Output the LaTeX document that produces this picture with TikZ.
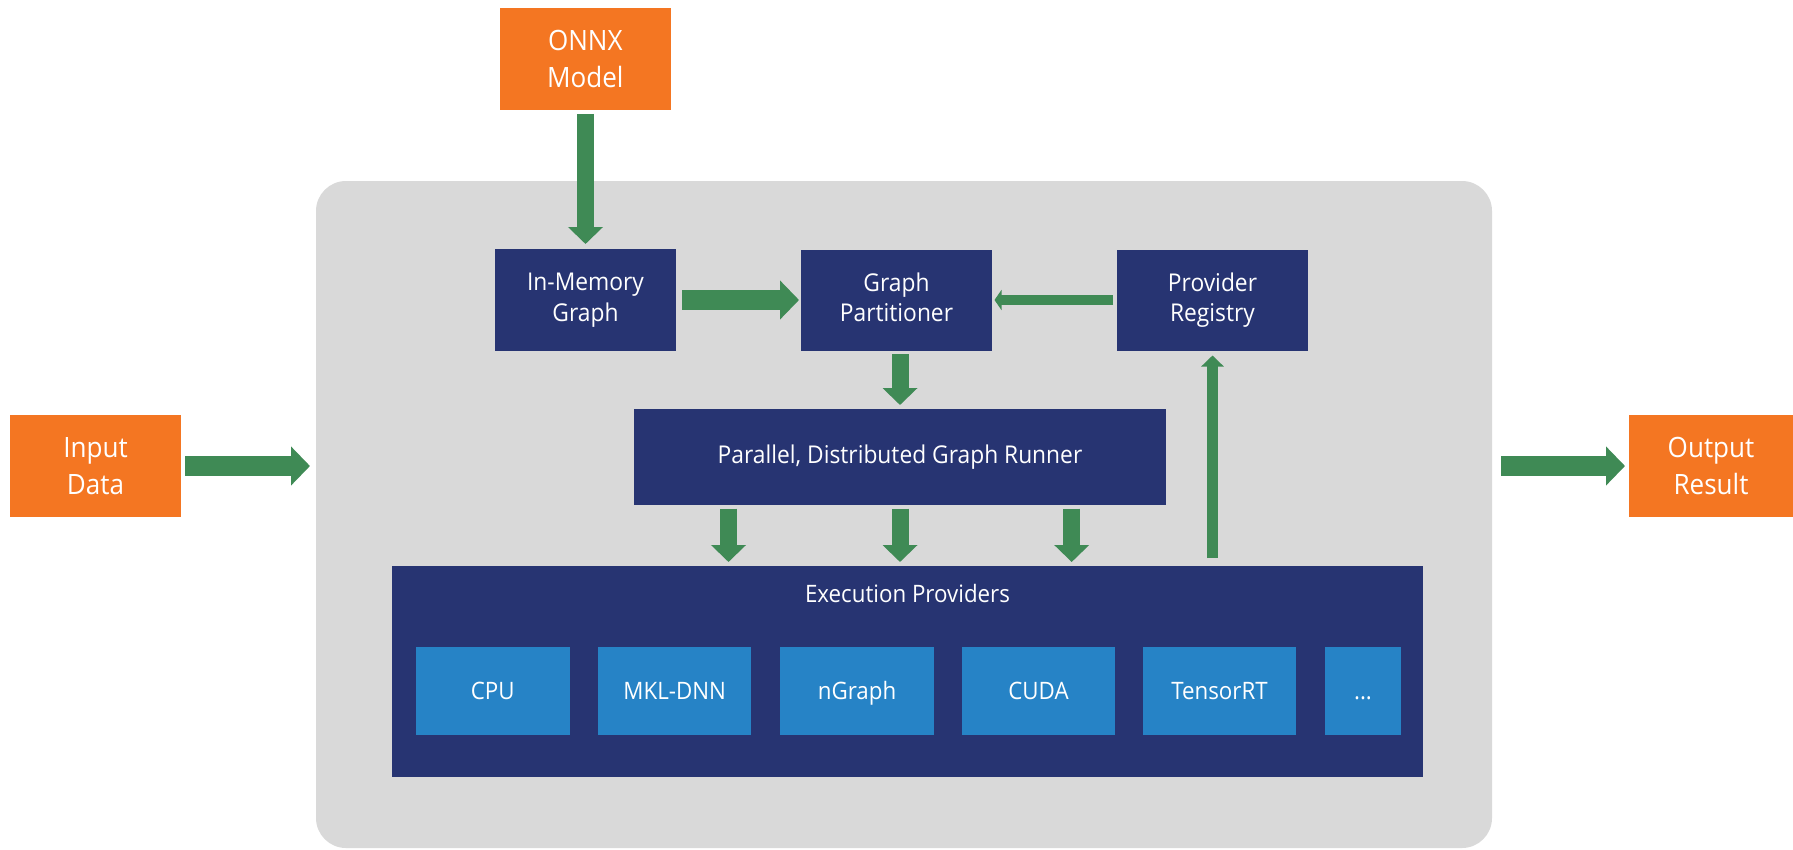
\documentclass[tikz,border=0pt]{standalone}
\usepackage{fontspec}
\setmainfont{Open Sans}[FakeStretch=0.93]
\usetikzlibrary{arrows.meta,calc}
\definecolor{orng}{HTML}{F47622}
\definecolor{navy}{HTML}{273472}
\definecolor{lblue}{HTML}{2683C6}
\definecolor{grn}{HTML}{3F8A55}
\definecolor{bgray}{HTML}{D9D9D9}
\begin{document}
\begin{tikzpicture}[x=1pt,y=-1pt,
  every node/.style={inner sep=0pt, outer sep=0pt, align=center, text=white},
  obox/.style={fill=orng, font=\fontsize{28}{37}\selectfont},
  nbox/.style={fill=navy, font=\fontsize{24.5}{30.5}\selectfont},
  pbox/.style={fill=lblue, font=\fontsize{24}{28}\selectfont, minimum height=88pt, text height=17.5pt, text depth=0.5pt},
  fatarrow/.style={draw=grn, line width=20pt, -{Triangle[width=38pt,length=19pt]}},
  midarrow/.style={draw=grn, line width=17pt, -{Triangle[width=34pt,length=17pt]}},
  thinarrow/.style={draw=grn, line width=11pt, -{Triangle[width=22pt,length=11pt]}},
  smallarrow/.style={draw=grn, line width=10pt, -{Triangle[width=20pt,length=7pt]}}
]
\useasboundingbox (0,0) rectangle (1793,849);
% container
\node[fill=bgray, rounded corners=30pt, minimum width=1176pt, minimum height=667pt] (cont) at (904,514.5) {};
% outside boxes
\node[obox, minimum width=170.5pt, minimum height=101.7pt] (onnx) at (585.3,58.9) {ONNX\\Model};
\node[obox, minimum width=171pt, minimum height=102pt] (input) at (95.5,466) {Input\\Data};
\node[obox, minimum width=164pt, minimum height=102pt] (output) at (1711,466) {Output\\Result};
% inner boxes
\node[nbox, minimum width=181pt, minimum height=102pt] (im) at (585.5,300) {In-Memory\\Graph};
\node[nbox, minimum width=191pt, minimum height=101pt] (gp) at (896.5,300) {Graph\\Partitioner\vphantom{y}};
\node[nbox, minimum width=191pt, minimum height=101pt] (pr) at (1212.5,300) {Provider\\Registry};
\node[nbox, minimum width=532pt, minimum height=96pt] (runner) at (900,457) {Parallel, Distributed Graph Runner};
\node[nbox, minimum width=1031pt, minimum height=211pt] (ep) at (907.5,671.5) {};
\node[font=\fontsize{24}{28}\selectfont] (eplabel) at (907.5,593) {Execution Providers};
% providers
\node[pbox, minimum width=153.5pt] (cpu) at (492.75,691) {CPU};
\node[pbox, minimum width=153.5pt] (mkl) at (674.7,691) {MKL-DNN};
\node[pbox, minimum width=154pt] (ngraph) at (857,691) {nGraph};
\node[pbox, minimum width=153pt] (cuda) at (1038.5,691) {CUDA};
\node[pbox, minimum width=153pt] (trt) at (1219.5,691) {TensorRT};
\node[pbox, minimum width=76pt] (dots) at (1363,691) {...};
% connectors
\draw[midarrow, shorten <=4pt, shorten >=5pt] (onnx.south -| im.north) -- (im.north);
\draw[fatarrow, shorten <=4pt, shorten >=6pt] (input.east) -- (input.east -| cont.west);
\draw[fatarrow, shorten <=9pt, shorten >=4pt] (output.west -| cont.east) -- (output.west);
\draw[fatarrow, shorten <=6pt, shorten >=2pt] (im.east) -- (gp.west);
\draw[smallarrow, shorten <=4pt, shorten >=2.5pt] (pr.west) -- (gp.east);
\draw[midarrow, shorten <=3.5pt, shorten >=4pt] (gp.south -| runner.north) -- (runner.north);
\draw[midarrow, shorten <=3.5pt, shorten >=4pt] ($(runner.south)+(-171.5,0)$) -- ($(ep.north -| runner.south)+(-171.5,0)$);
\draw[midarrow, shorten <=3.5pt, shorten >=4pt] (runner.south) -- (ep.north -| runner.south);
\draw[midarrow, shorten <=3.5pt, shorten >=4pt] ($(runner.south)+(171.7,0)$) -- ($(ep.north -| runner.south)+(171.7,0)$);
\draw[thinarrow, shorten <=8pt, shorten >=5pt] (ep.north -| pr.south) -- (pr.south);
\end{tikzpicture}
\end{document}
